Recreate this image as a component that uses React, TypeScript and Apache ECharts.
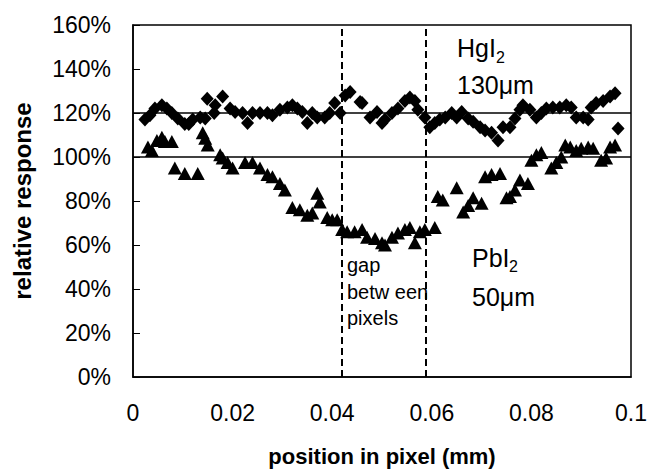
import React, { useEffect, useRef } from "react";
import * as echarts from "echarts";

// HgI2 130 µm (diamonds): position (mm), relative response (fraction)
const hgX = [0.0024,0.0034,0.0044,0.0058,0.0068,0.0078,0.009,0.0104,0.0112,0.012,0.0135,0.0145,0.0149,0.0165,0.0163,0.018,0.0195,0.0205,0.022,0.023,0.024,0.0255,0.027,0.028,0.0295,0.031,0.032,0.033,0.034,0.035,0.036,0.037,0.0385,0.0395,0.0405,0.0416,0.0426,0.0436,0.0456,0.046,0.0476,0.049,0.05,0.0506,0.052,0.0532,0.0546,0.0556,0.0566,0.0572,0.0586,0.0596,0.0606,0.0616,0.0627,0.064,0.065,0.066,0.0673,0.0683,0.0697,0.0707,0.072,0.0733,0.0743,0.0757,0.0767,0.0777,0.0783,0.0797,0.081,0.082,0.083,0.0843,0.0857,0.087,0.088,0.089,0.0904,0.0914,0.092,0.093,0.0944,0.0958,0.0968,0.0974];
const hgY = [1.17,1.19,1.22,1.235,1.22,1.20,1.175,1.15,1.15,1.17,1.18,1.175,1.265,1.235,1.20,1.275,1.22,1.205,1.20,1.155,1.20,1.20,1.20,1.19,1.215,1.225,1.235,1.22,1.205,1.155,1.20,1.18,1.18,1.20,1.245,1.20,1.28,1.295,1.25,1.245,1.18,1.205,1.155,1.17,1.20,1.22,1.255,1.27,1.255,1.215,1.18,1.135,1.155,1.17,1.18,1.20,1.18,1.205,1.175,1.16,1.135,1.12,1.11,1.075,1.135,1.135,1.175,1.215,1.235,1.215,1.18,1.20,1.22,1.225,1.225,1.235,1.225,1.18,1.18,1.17,1.225,1.245,1.255,1.275,1.29,1.13];

// PbI2 50 µm (triangles)
const pbX = [0.003,0.0038,0.0048,0.0058,0.0064,0.0078,0.0084,0.0104,0.013,0.014,0.0145,0.015,0.0175,0.018,0.019,0.02,0.0225,0.024,0.0255,0.027,0.028,0.0295,0.0305,0.032,0.0335,0.035,0.036,0.037,0.0375,0.039,0.04,0.041,0.042,0.043,0.0445,0.046,0.047,0.0486,0.05,0.0506,0.052,0.0532,0.0546,0.0556,0.0566,0.0576,0.0586,0.0606,0.0612,0.0622,0.065,0.0663,0.0673,0.0683,0.07,0.0707,0.072,0.0737,0.075,0.0757,0.0767,0.0777,0.0793,0.08,0.081,0.082,0.084,0.085,0.086,0.0868,0.0878,0.089,0.09,0.0914,0.0924,0.094,0.095,0.0958,0.0968];
const pbY = [1.045,1.03,1.075,1.09,1.07,1.07,0.95,0.925,0.925,1.11,1.085,1.055,1.01,0.995,0.975,0.95,0.975,0.975,0.95,0.92,0.91,0.88,0.85,0.77,0.76,0.735,0.745,0.835,0.795,0.725,0.715,0.715,0.67,0.66,0.66,0.67,0.635,0.63,0.61,0.60,0.635,0.655,0.67,0.68,0.61,0.66,0.67,0.68,0.82,0.805,0.86,0.75,0.78,0.815,0.79,0.91,0.92,0.925,0.815,0.82,0.85,0.895,0.88,0.985,1.01,1.02,0.95,0.975,1.00,1.055,1.045,1.03,1.04,1.045,1.04,0.985,0.995,1.045,1.055];

const refLevels = [1.0, 1.2];
const gapEdges = [0.042, 0.0587];

const FONT = "'Liberation Sans', Arial, sans-serif";

export default function App() {
  const ref = useRef<HTMLDivElement>(null);
  useEffect(() => {
    if (!ref.current) return;
    const chart = echarts.init(ref.current, undefined, { renderer: "svg" });
    const hgData = hgX.map((x, i) => [x, hgY[i]]);
    const pbData = pbX.map((x, i) => [x, pbY[i]]);
    const txt = (text: string, x: number, y: number, size: number) => ({
      type: "text",
      x,
      y,
      z: 100,
      style: {
        text,
        fill: "#000",
        font: `${size}px ${FONT}`,
        textAlign: "left",
        textVerticalAlign: "middle",
        align: "left",
        verticalAlign: "middle",
      },
    });
    chart.setOption({
      animation: false,
      backgroundColor: "#fff",
      grid: {
        left: 133,
        right: 18,
        top: 25,
        bottom: 92,
        outerBoundsMode: "none",
        containLabel: false,
        show: true,
        borderColor: "#000",
        borderWidth: 1.5,
        backgroundColor: "transparent",
      },
      xAxis: {
        type: "value",
        min: 0,
        max: 0.1,
        interval: 0.02,
        name: "position in pixel (mm)",
        nameLocation: "middle",
        nameGap: 68,
        nameTextStyle: { fontFamily: FONT, fontSize: 22, fontWeight: "bold", color: "#000" },
        axisLine: { show: true, lineStyle: { color: "#000", width: 1.5 } },
        axisTick: { show: false },
        splitLine: { show: false },
        axisLabel: {
          fontFamily: FONT,
          fontSize: 23,
          color: "#000",
          margin: 24,
          formatter: (v: number) => String(+v.toFixed(2)),
        },
      },
      yAxis: {
        type: "value",
        min: 0,
        max: 1.6,
        interval: 0.2,
        name: "relative response",
        nameLocation: "middle",
        nameRotate: 90,
        nameGap: 99,
        nameTextStyle: { fontFamily: FONT, fontSize: 24, fontWeight: "bold", color: "#000" },
        axisLine: { show: true, lineStyle: { color: "#000", width: 1.5 } },
        axisTick: { show: true, inside: true, length: 7, lineStyle: { color: "#000", width: 1 } },
        splitLine: { show: false },
        axisLabel: {
          fontFamily: FONT,
          fontSize: 23,
          color: "#000",
          margin: 22,
          formatter: (v: number) => Math.round(v * 100) + "%",
        },
      },
      series: [
        {
          type: "scatter",
          name: "lines",
          data: [],
          silent: true,
          z: 1,
          markLine: {
            silent: true,
            precision: 5,
            symbol: ["none", "none"],
            label: { show: false },
            animation: false,
            data: [
              ...refLevels.map((v) => ({ yAxis: v, lineStyle: { color: "#000", width: 1.5, type: "solid" } })),
              ...gapEdges.map((v) => ({ xAxis: v, lineStyle: { color: "#000", width: 2, type: [7, 4] } })),
            ],
          },
        },
        {
          type: "scatter",
          name: "HgI2 130µm",
          symbol: "diamond",
          symbolSize: [13, 14],
          itemStyle: { color: "#000", opacity: 1 },
          data: hgData,
          z: 3,
        },
        {
          type: "scatter",
          name: "PbI2 50µm",
          symbol: "triangle",
          symbolSize: [14, 13],
          itemStyle: { color: "#000", opacity: 1 },
          data: pbData,
          z: 3,
        },
      ],
      graphic: [
        txt("HgI", 457, 48, 25),
        txt("2", 496, 57, 16),
        txt("130μm", 457, 85, 25),
        txt("PbI", 472, 258, 25),
        txt("2", 509, 266, 16),
        txt("50μm", 472, 297, 25),
        txt("gap", 347, 265, 20),
        txt("betw een", 347, 292, 20),
        txt("pixels", 347, 318, 20),
      ],
    });
    return () => chart.dispose();
  }, []);
  return <div ref={ref} style={{ position: "absolute", left: 0, top: 0, width: 649, height: 469 }} />;
}
